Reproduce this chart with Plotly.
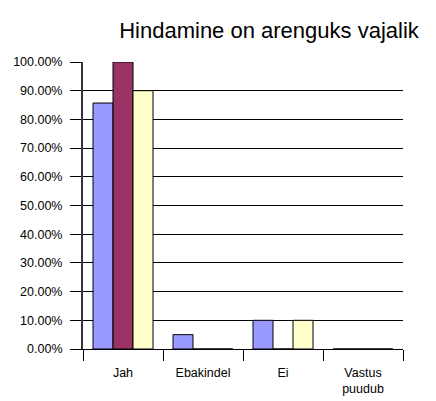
import plotly.graph_objects as go

categories = ["Jah", "Ebakindel", "Ei", "Vastus<br>puudub"]
series_a = [0.857, 0.05, 0.10, 0.0]
series_b = [1.00, 0.0, 0.0, 0.0]
series_c = [0.90, 0.0, 0.10, 0.0]
colors = ["#9999FF", "#993366", "#FFFFCC"]

fig = go.Figure()
for vals, col in zip([series_a, series_b, series_c], colors):
    fig.add_trace(go.Bar(
        x=categories, y=vals,
        marker=dict(color=col, line=dict(color="black", width=1)),
    ))

# page body has an 8px margin, so the figure is a bit smaller than the window
fig.update_layout(
    width=428, height=393,
    margin=dict(l=75, r=33, t=54, b=52, autoexpand=False),
    barmode="group", bargap=0.25, bargroupgap=0,
    showlegend=False,
    plot_bgcolor="white", paper_bgcolor="white",
    font=dict(family="Liberation Sans, Arial, sans-serif", size=12.5, color="black"),
    title=dict(text="Hindamine on arenguks vajalik", xref="container", x=261 / 428,
               xanchor="center", y=1 - 22 / 393, yanchor="middle",
               font=dict(size=22, color="black")),
)
fig.update_yaxes(
    range=[0, 1], dtick=0.1, tickformat=".2%",
    showgrid=True, gridcolor="black", gridwidth=1,
    ticks="outside", ticklen=11, tickcolor="black", ticklabelstandoff=5,
    showline=True, linecolor="#333333", linewidth=2,
    zeroline=False,
)
fig.update_xaxes(
    tickson="boundaries", ticks="outside", ticklen=11, tickcolor="black",
    ticklabelstandoff=12,
    showline=True, linecolor="black", linewidth=1,
    showgrid=False,
)

fig.write_html("out.html")
